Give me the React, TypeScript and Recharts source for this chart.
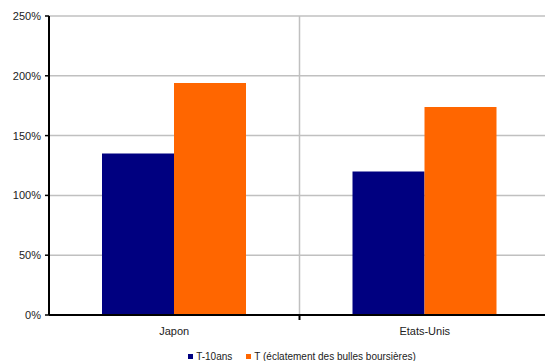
import React from 'react'
import { BarChart, Bar, XAxis, YAxis, CartesianGrid, Legend } from 'recharts'

const categories = ['Japon', 'Etats-Unis']
const t10ans = [135, 120]
const tEclatement = [194, 174]
const yTicks = [0, 50, 100, 150, 200, 250]

const SERIES = [
  { key: 't10', name: 'T-10ans', color: '#000080' },
  { key: 'tEcl', name: 'T (éclatement des bulles boursières)', color: '#FF6600' },
]

const data = categories.map((name, i) => ({
  name,
  t10: t10ans[i],
  tEcl: tEclatement[i],
}))

const FONT = '"Liberation Sans", Arial, sans-serif'

function CategoryTick(props: any) {
  const { x, y, payload, index, width } = props
  const band = (width || 501) / categories.length
  return (
    <g>
      <text x={x} y={y + 12} textAnchor="middle" fontSize={11} fill="#222" fontFamily={FONT}>
        {payload.value}
      </text>
      {index < categories.length - 1 && (
        <line x1={x + band / 2} x2={x + band / 2} y1={y - 8} y2={y - 3} stroke="#000" strokeWidth={2} />
      )}
    </g>
  )
}

function LegendContent() {
  return (
    <div
      style={{
        height: 22,
        display: 'flex',
        justifyContent: 'center',
        alignItems: 'center',
        paddingTop: 12,
        paddingLeft: 54,
        boxSizing: 'border-box',
        fontFamily: FONT,
        fontSize: 10,
        color: '#222',
      }}
    >
      {SERIES.map((s, i) => (
        <span key={s.key} style={{ display: 'flex', alignItems: 'center', marginLeft: i ? 14 : 0 }}>
          <span style={{ width: 5, height: 5, background: s.color, marginRight: 3 }} />
          {s.name}
        </span>
      ))}
    </div>
  )
}

export default function App() {
  return (
    <div style={{ position: 'absolute', left: 0, top: 0, background: '#fff' }}>
      <BarChart
        width={545}
        height={361}
        data={data}
        margin={{ top: 16, right: -5, left: 0, bottom: 0 }}
        barGap={0}
        barCategoryGap={53}
        style={{ fontFamily: FONT }}
      >
        <CartesianGrid
          stroke="#c0c0c0"
          strokeWidth={1.5}
          verticalCoordinatesGenerator={({ offset }: any) => [offset.left + offset.width / 2]}
        />
        <XAxis
          dataKey="name"
          height={24}
          axisLine={{ stroke: '#000', strokeWidth: 2 }}
          tickLine={false}
          tick={<CategoryTick />}
          interval={0}
        />
        <YAxis
          width={49}
          domain={[0, 250]}
          ticks={yTicks}
          interval={0}
          tickFormatter={(v: number) => `${v}%`}
          axisLine={{ stroke: '#000', strokeWidth: 2 }}
          tickLine={{ stroke: '#000', strokeWidth: 1.5 }}
          tickSize={4}
          tickMargin={4}
          tick={{ fontSize: 11, fill: '#222', fontFamily: FONT }}
        />
        <Legend verticalAlign="bottom" content={<LegendContent />} />
        {SERIES.map((s) => (
          <Bar key={s.key} dataKey={s.key} name={s.name} fill={s.color} isAnimationActive={false} />
        ))}
      </BarChart>
    </div>
  )
}
